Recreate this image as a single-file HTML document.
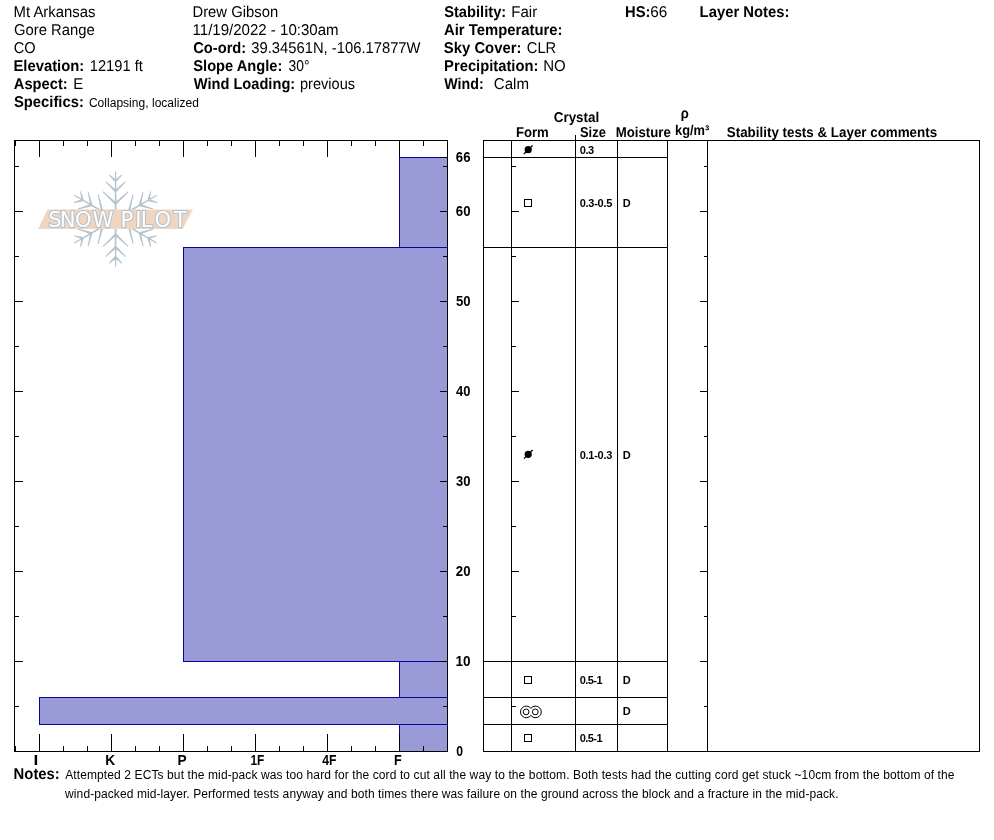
<!DOCTYPE html><html><head><meta charset="utf-8"><title>Snow Profile</title><style>
html,body{margin:0;padding:0;background:#fff;}
body{width:994px;height:840px;overflow:hidden;position:relative;}
svg{position:absolute;left:0;top:0;will-change:transform;}
text{font-family:"Liberation Sans",Arial,sans-serif;fill:#000;}
.b{font-weight:bold;}
</style></head><body>
<svg width="994" height="840" viewBox="0 0 994 840">
<path d="M116.60 219.10L116.20 171.50L115.00 171.50L114.60 219.10ZM116.40 202.87L103.24 191.23L102.62 191.88L114.80 204.53ZM116.40 204.53L128.58 191.88L127.96 191.23L114.80 202.87ZM116.40 190.27L105.98 181.25L105.35 181.90L114.80 191.93ZM116.40 191.93L125.85 181.90L125.22 181.25L114.80 190.27ZM116.40 180.17L109.50 174.53L108.88 175.18L114.80 181.83ZM116.40 181.83L122.32 175.18L121.70 174.53L114.80 180.17ZM116.10 219.97L157.12 195.82L156.52 194.78L115.10 218.23ZM130.05 211.67L133.55 194.46L132.68 194.25L127.82 211.13ZM128.62 212.50L145.66 216.73L145.92 215.87L129.26 210.30ZM140.97 205.37L143.56 191.84L142.69 191.63L138.73 204.83ZM139.53 206.20L152.94 209.38L153.19 208.51L140.17 204.00ZM149.71 200.32L151.15 191.54L150.27 191.32L147.48 199.78ZM148.27 201.15L156.99 202.96L157.24 202.10L148.92 198.95ZM115.10 219.97L156.52 243.42L157.12 242.38L116.10 218.23ZM129.26 227.90L145.92 222.33L145.66 221.47L128.62 225.70ZM127.82 227.07L132.68 243.95L133.55 243.74L130.05 226.53ZM140.17 234.20L153.19 229.69L152.94 228.82L139.53 232.00ZM138.73 233.37L142.69 246.57L143.56 246.36L140.97 232.83ZM148.92 239.25L157.24 236.10L156.99 235.24L148.27 237.05ZM147.48 238.42L150.27 246.88L151.15 246.66L149.71 237.88ZM114.60 219.10L115.00 266.70L116.20 266.70L116.60 219.10ZM114.80 235.33L127.96 246.97L128.58 246.32L116.40 233.67ZM114.80 233.67L102.62 246.32L103.24 246.97L116.40 235.33ZM114.80 247.93L125.22 256.95L125.85 256.30L116.40 246.27ZM114.80 246.27L105.35 256.30L105.98 256.95L116.40 247.93ZM114.80 258.03L121.70 263.67L122.32 263.02L116.40 256.37ZM114.80 256.37L108.88 263.02L109.50 263.67L116.40 258.03ZM115.10 218.23L74.08 242.38L74.68 243.42L116.10 219.97ZM101.15 226.53L97.65 243.74L98.52 243.95L103.38 227.07ZM102.58 225.70L85.54 221.47L85.28 222.33L101.94 227.90ZM90.23 232.83L87.64 246.36L88.51 246.57L92.47 233.37ZM91.67 232.00L78.26 228.82L78.01 229.69L91.03 234.20ZM81.49 237.88L80.05 246.66L80.93 246.88L83.72 238.42ZM82.93 237.05L74.21 235.24L73.96 236.10L82.28 239.25ZM116.10 218.23L74.68 194.78L74.08 195.82L115.10 219.97ZM101.94 210.30L85.28 215.87L85.54 216.73L102.58 212.50ZM103.38 211.13L98.52 194.25L97.65 194.46L101.15 211.67ZM91.03 204.00L78.01 208.51L78.26 209.38L91.67 206.20ZM92.47 204.83L88.51 191.63L87.64 191.84L90.23 205.37ZM82.28 198.95L73.96 202.10L74.21 202.96L82.93 201.15ZM83.72 199.78L80.93 191.32L80.05 191.54L81.49 200.32Z" fill="#b4c3cc"/>
<polygon points="47.5,209.5 193,209.5 182.5,229 38,229" fill="#efd6c2"/>
<text transform="scale(1.0420 1)" x="46.28 57.42 72.05 88.76 109.40 115.73 129.78 135.05 148.29 166.78" y="226.7" style="font-family:'DejaVu Sans',sans-serif;font-size:20.3px;fill:#fff" stroke="#b5c2ca" stroke-width="2" paint-order="stroke">SNOW PILOT</text>
<rect x="399.5" y="157.5" width="48" height="90" fill="#9a9ad6" stroke="#0c00a0" stroke-width="1"/>
<rect x="183.5" y="247.5" width="264" height="414" fill="#9a9ad6" stroke="#0c00a0" stroke-width="1"/>
<rect x="399.5" y="661.5" width="48" height="36" fill="#9a9ad6" stroke="#0c00a0" stroke-width="1"/>
<rect x="39.5" y="697.5" width="408" height="27" fill="#9a9ad6" stroke="#0c00a0" stroke-width="1"/>
<rect x="399.5" y="724.5" width="48" height="27" fill="#9a9ad6" stroke="#0c00a0" stroke-width="1"/>
<path d="M14 140.5H448M14 751.5H448M14.5 140V752M447.5 140V752M39.5 140V157M39.5 734V751M111.5 140V157M111.5 734V751M183.5 140V157M183.5 734V751M255.5 140V157M255.5 734V751M327.5 140V157M327.5 734V751M399.5 140V157M399.5 734V751M15.5 140V146M15.5 746V751M63.5 140V146M63.5 746V751M87.5 140V146M87.5 746V751M135.5 140V146M135.5 746V751M159.5 140V146M159.5 746V751M207.5 140V146M207.5 746V751M231.5 140V146M231.5 746V751M279.5 140V146M279.5 746V751M303.5 140V146M303.5 746V751M351.5 140V146M351.5 746V751M375.5 140V146M375.5 746V751M423.5 140V146M423.5 746V751M14 706.5H19M443 706.5H447M14 661.5H23M440 661.5H447M14 616.5H19M443 616.5H447M14 571.5H23M440 571.5H447M14 526.5H19M443 526.5H447M14 481.5H23M440 481.5H447M14 436.5H19M443 436.5H447M14 391.5H23M440 391.5H447M14 346.5H19M443 346.5H447M14 301.5H23M440 301.5H447M14 256.5H19M443 256.5H447M14 211.5H23M440 211.5H447M14 166.5H19M443 166.5H447M440 157.5H447" stroke="#000" stroke-width="1" fill="none"/>
<text x="455.82" y="162" class="b" style="font-size:13.8px" textLength="14.66" lengthAdjust="spacingAndGlyphs">66</text>
<text x="455.81" y="216" class="b" style="font-size:13.8px" textLength="14.73" lengthAdjust="spacingAndGlyphs">60</text>
<text x="455.89" y="306" class="b" style="font-size:13.8px" textLength="14.65" lengthAdjust="spacingAndGlyphs">50</text>
<text x="456.10" y="396" class="b" style="font-size:13.8px" textLength="14.43" lengthAdjust="spacingAndGlyphs">40</text>
<text x="456.00" y="486" class="b" style="font-size:13.8px" textLength="14.54" lengthAdjust="spacingAndGlyphs">30</text>
<text x="455.84" y="576" class="b" style="font-size:13.8px" textLength="14.70" lengthAdjust="spacingAndGlyphs">20</text>
<text x="455.44" y="666" class="b" style="font-size:13.8px" textLength="15.11" lengthAdjust="spacingAndGlyphs">10</text>
<text x="456.22" y="756" class="b" style="font-size:13.8px" textLength="6.78" lengthAdjust="spacingAndGlyphs">0</text>
<text x="33.44" y="765" class="b" style="font-size:13.8px" textLength="4.82" lengthAdjust="spacingAndGlyphs">I</text>
<text x="105.28" y="765" class="b" style="font-size:13.8px" textLength="9.95" lengthAdjust="spacingAndGlyphs">K</text>
<text x="177.49" y="765" class="b" style="font-size:13.8px" textLength="9.08" lengthAdjust="spacingAndGlyphs">P</text>
<text x="250.45" y="765" class="b" style="font-size:13.8px" textLength="13.89" lengthAdjust="spacingAndGlyphs">1F</text>
<text x="322.22" y="765" class="b" style="font-size:13.8px" textLength="14.23" lengthAdjust="spacingAndGlyphs">4F</text>
<text x="393.96" y="765" class="b" style="font-size:13.8px" textLength="7.71" lengthAdjust="spacingAndGlyphs">F</text>
<path d="M483 140.5H980M483 751.5H980M483.5 140V752M979.5 140V752M511.5 140V751M617.5 140V751M667.5 140V751M707.5 140V751M575.5 135V751M483 157.5H668M483 247.5H668M483 661.5H668M483 697.5H668M483 724.5H668M511 706.5H516M704 706.5H707M511 661.5H519M700 661.5H707M511 616.5H516M704 616.5H707M511 571.5H519M700 571.5H707M511 526.5H516M704 526.5H707M511 481.5H519M700 481.5H707M511 436.5H516M704 436.5H707M511 391.5H519M700 391.5H707M511 346.5H516M704 346.5H707M511 301.5H519M700 301.5H707M511 256.5H516M704 256.5H707M511 211.5H519M700 211.5H707M511 166.5H516M704 166.5H707" stroke="#000" stroke-width="1" fill="none"/>
<circle cx="528.2" cy="149.7" r="3.6" fill="#000"/>
<path d="M523.9 154.0L532.6 145.4" stroke="#000" stroke-width="1.3"/>
<rect x="524.5" y="199.5" width="7" height="7" fill="none" stroke="#000" stroke-width="1"/>
<circle cx="528.2" cy="454.3" r="3.6" fill="#000"/>
<path d="M523.9 458.6L532.6 450.0" stroke="#000" stroke-width="1.3"/>
<rect x="524.5" y="676.5" width="7" height="7" fill="none" stroke="#000" stroke-width="1"/>
<path d="M530.9 708.4A5.8 5.8 0 1 0 530.9 715.4A5.8 5.8 0 1 0 530.9 708.4Z" fill="none" stroke="#000" stroke-width="1"/>
<circle cx="526.1" cy="711.9" r="2.9" fill="none" stroke="#000" stroke-width="1"/>
<circle cx="535.3" cy="711.9" r="2.9" fill="none" stroke="#000" stroke-width="1"/>
<rect x="524.5" y="734.5" width="7" height="7" fill="none" stroke="#000" stroke-width="1"/>
<text x="13.59" y="17" style="font-size:15.6px;text-rendering:geometricPrecision" textLength="81.94" lengthAdjust="spacingAndGlyphs">Mt Arkansas</text>
<text x="14.06" y="35" style="font-size:15.6px;text-rendering:geometricPrecision" textLength="80.60" lengthAdjust="spacingAndGlyphs">Gore Range</text>
<text x="13.76" y="53" style="font-size:15.6px;text-rendering:geometricPrecision" textLength="21.94" lengthAdjust="spacingAndGlyphs">CO</text>
<text x="13.41" y="71" style="font-size:15.6px;text-rendering:geometricPrecision" class="b" textLength="70.82" lengthAdjust="spacingAndGlyphs">Elevation:</text>
<text x="89.78" y="71" style="font-size:15.6px;text-rendering:geometricPrecision" textLength="53.13" lengthAdjust="spacingAndGlyphs">12191 ft</text>
<text x="13.83" y="89" style="font-size:15.6px;text-rendering:geometricPrecision" class="b" textLength="53.88" lengthAdjust="spacingAndGlyphs">Aspect:</text>
<text x="73.17" y="89" style="font-size:15.6px;text-rendering:geometricPrecision" textLength="10.00" lengthAdjust="spacingAndGlyphs">E</text>
<text x="13.97" y="107" style="font-size:15.6px;text-rendering:geometricPrecision" class="b" textLength="69.85" lengthAdjust="spacingAndGlyphs">Specifics:</text>
<text x="88.89" y="107" style="font-size:12px" textLength="109.98" lengthAdjust="spacing">Collapsing, localized</text>
<text x="192.48" y="17" style="font-size:15.6px;text-rendering:geometricPrecision" textLength="85.68" lengthAdjust="spacingAndGlyphs">Drew Gibson</text>
<text x="192.55" y="35" style="font-size:15.6px;text-rendering:geometricPrecision" textLength="146.04" lengthAdjust="spacingAndGlyphs">11/19/2022 - 10:30am</text>
<text x="193.20" y="53" style="font-size:15.6px;text-rendering:geometricPrecision" class="b" textLength="53.02" lengthAdjust="spacingAndGlyphs">Co-ord:</text>
<text x="251.34" y="53" style="font-size:15.6px;text-rendering:geometricPrecision" textLength="169.21" lengthAdjust="spacingAndGlyphs">39.34561N, -106.17877W</text>
<text x="193.28" y="71" style="font-size:15.6px;text-rendering:geometricPrecision" class="b" textLength="89.12" lengthAdjust="spacingAndGlyphs">Slope Angle:</text>
<text x="288.47" y="71" style="font-size:15.6px;text-rendering:geometricPrecision" textLength="20.96" lengthAdjust="spacingAndGlyphs">30°</text>
<text x="193.69" y="89" style="font-size:15.6px;text-rendering:geometricPrecision" class="b" textLength="101.52" lengthAdjust="spacingAndGlyphs">Wind Loading:</text>
<text x="299.96" y="89" style="font-size:15.6px;text-rendering:geometricPrecision" textLength="55.07" lengthAdjust="spacingAndGlyphs">previous</text>
<text x="444.18" y="17" style="font-size:15.6px;text-rendering:geometricPrecision" class="b" textLength="62.04" lengthAdjust="spacingAndGlyphs">Stability:</text>
<text x="511.27" y="17" style="font-size:15.6px;text-rendering:geometricPrecision" textLength="25.88" lengthAdjust="spacingAndGlyphs">Fair</text>
<text x="443.93" y="35" style="font-size:15.6px;text-rendering:geometricPrecision" class="b" textLength="118.60" lengthAdjust="spacingAndGlyphs">Air Temperature:</text>
<text x="443.87" y="53" style="font-size:15.6px;text-rendering:geometricPrecision" class="b" textLength="77.56" lengthAdjust="spacingAndGlyphs">Sky Cover:</text>
<text x="526.86" y="53" style="font-size:15.6px;text-rendering:geometricPrecision" textLength="29.32" lengthAdjust="spacingAndGlyphs">CLR</text>
<text x="444.11" y="71" style="font-size:15.6px;text-rendering:geometricPrecision" class="b" textLength="94.21" lengthAdjust="spacingAndGlyphs">Precipitation:</text>
<text x="543.27" y="71" style="font-size:15.6px;text-rendering:geometricPrecision" textLength="22.55" lengthAdjust="spacingAndGlyphs">NO</text>
<text x="444.29" y="89" style="font-size:15.6px;text-rendering:geometricPrecision" class="b" textLength="39.38" lengthAdjust="spacingAndGlyphs">Wind:</text>
<text x="493.83" y="89" style="font-size:15.6px;text-rendering:geometricPrecision" textLength="35.16" lengthAdjust="spacingAndGlyphs">Calm</text>
<text x="625.01" y="17" style="font-size:15.6px;text-rendering:geometricPrecision" class="b" textLength="25.41" lengthAdjust="spacingAndGlyphs">HS:</text>
<text x="650.32" y="17" style="font-size:15.6px;text-rendering:geometricPrecision" textLength="17.05" lengthAdjust="spacingAndGlyphs">66</text>
<text x="699.61" y="17" style="font-size:15.6px;text-rendering:geometricPrecision" class="b" textLength="89.82" lengthAdjust="spacingAndGlyphs">Layer Notes:</text>
<text x="553.75" y="121.7" style="font-size:14.2px;text-rendering:geometricPrecision" class="b" textLength="45.50" lengthAdjust="spacingAndGlyphs">Crystal</text>
<text x="515.92" y="136.7" style="font-size:14.2px;text-rendering:geometricPrecision" class="b" textLength="32.90" lengthAdjust="spacingAndGlyphs">Form</text>
<text x="580.03" y="136.7" style="font-size:14.2px;text-rendering:geometricPrecision" class="b" textLength="25.81" lengthAdjust="spacingAndGlyphs">Size</text>
<text x="615.71" y="136.7" style="font-size:14.2px;text-rendering:geometricPrecision" class="b" textLength="55.14" lengthAdjust="spacingAndGlyphs">Moisture</text>
<text x="680.73" y="118" style="font-size:14.2px;text-rendering:geometricPrecision" class="b" textLength="8.04" lengthAdjust="spacingAndGlyphs">ρ</text>
<text x="675.10" y="134.9" style="font-size:14.2px;text-rendering:geometricPrecision" class="b" textLength="34.17" lengthAdjust="spacingAndGlyphs">kg/m³</text>
<text x="726.81" y="137" style="font-size:14.2px;text-rendering:geometricPrecision" class="b" textLength="210.33" lengthAdjust="spacingAndGlyphs">Stability tests &amp; Layer comments</text>
<text x="13.61" y="779" style="font-size:15.6px;text-rendering:geometricPrecision" class="b" textLength="46.22" lengthAdjust="spacingAndGlyphs">Notes:</text>
<text x="65.18" y="779" style="font-size:12px" textLength="889.36" lengthAdjust="spacing">Attempted 2 ECTs but the mid-pack was too hard for the cord to cut all the way to the bottom. Both tests had the cutting cord get stuck ~10cm from the bottom of the</text>
<text x="65.12" y="798" style="font-size:12px" textLength="773.38" lengthAdjust="spacing">wind-packed mid-layer. Performed tests anyway and both times there was failure on the ground across the block and a fracture in the mid-pack.</text>
<text x="579.86" y="154.0" style="font-size:11px" class="b" textLength="14.33" lengthAdjust="spacing">0.3</text>
<text x="579.76" y="206.8" style="font-size:11px" class="b" textLength="32.54" lengthAdjust="spacing">0.3-0.5</text>
<text x="622.86" y="206.8" style="font-size:11px" class="b">D</text>
<text x="579.76" y="458.8" style="font-size:11px" class="b" textLength="32.53" lengthAdjust="spacing">0.1-0.3</text>
<text x="622.86" y="458.8" style="font-size:11px" class="b">D</text>
<text x="579.66" y="683.8" style="font-size:11px" class="b" textLength="22.84" lengthAdjust="spacing">0.5-1</text>
<text x="622.86" y="683.8" style="font-size:11px" class="b">D</text>
<text x="622.86" y="715.3" style="font-size:11px" class="b">D</text>
<text x="579.66" y="742.3" style="font-size:11px" class="b" textLength="22.84" lengthAdjust="spacing">0.5-1</text>
</svg></body></html>
